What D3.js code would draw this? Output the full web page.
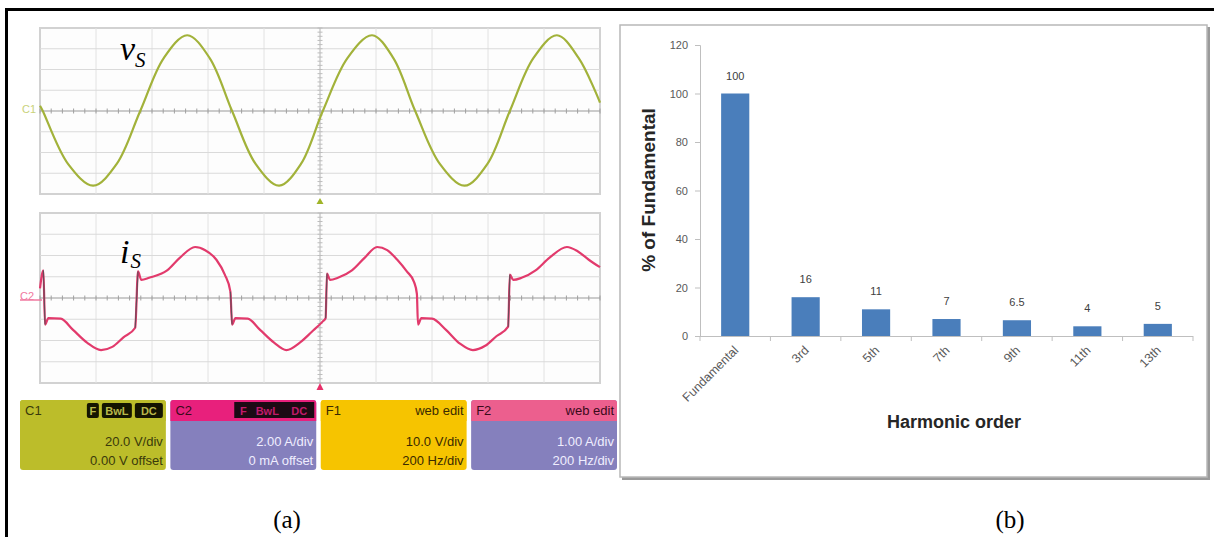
<!DOCTYPE html>
<html><head><meta charset="utf-8">
<script src="https://cdn.jsdelivr.net/npm/d3@7"></script>
<style>body{margin:0;background:#fff;overflow:hidden}</style>
</head><body>
<svg id="c" width="1214" height="537"></svg>
<script>
// ---------- DATA ----------
// (a) oscilloscope traces, time in screen divisions (0..10)
const vsTime = [0.00,0.05,0.50,0.95,1.37,1.79,2.21,2.63,3.03,3.43,3.85,4.27,4.66,5.05,5.49,5.93,6.31,6.70,7.14,7.58,7.99,8.39,8.81,9.23,9.62,10.0];
const vsVolt = [5,0,-51,-72,-51,0,51,73,51,0,-51,-72,-51,0,51,73,51,0,-51,-72,-51,0,51,73,51,8];
const isTime = [0.00,0.06,0.09,0.15,0.37,0.59,0.84,1.09,1.29,1.49,1.70,1.75,1.81,1.95,2.27,2.50,2.77,2.95,3.15,3.30,3.40,3.43,3.49,3.71,3.93,4.18,4.40,4.64,4.85,5.05,5.10,5.125,5.18,5.32,5.57,5.80,6.02,6.20,6.38,6.55,6.68,6.73,6.75,6.81,7.00,7.25,7.50,7.73,7.95,8.15,8.36,8.39,8.45,8.60,8.85,9.10,9.41,9.60,9.80,10.0];
const isAmp  = [0.9,2.6,-2.5,-1.9,-1.95,-3.0,-4.2,-4.9,-4.6,-3.7,-2.8,2.5,1.7,1.9,2.6,3.8,4.8,4.5,3.6,2.2,0.6,-2.5,-1.9,-1.95,-3.0,-4.2,-4.9,-4.2,-3.2,-2.2,-1.9,2.3,1.7,1.9,2.6,3.8,4.8,4.5,3.6,2.5,1.5,0.4,-2.5,-1.9,-1.95,-3.0,-4.3,-4.9,-4.5,-3.6,-2.7,2.2,1.7,1.9,2.6,3.8,4.8,4.4,3.6,2.9];
const scopeChannels = ["C1","C2","F1","F2"];
const scopeTopRight = [["F","BwL","DC"],["F","BwL","DC"],["web edit"],["web edit"]];
const scopeLine1 = ["20.0 V/div","2.00 A/div","10.0 V/div","1.00 A/div"];
const scopeLine2 = ["0.00 V offset","0 mA offset","200 Hz/div","200 Hz/div"];
// (b) harmonic spectrum
const harmonicOrders = ["Fundamental","3rd","5th","7th","9th","11th","13th"];
const harmonicPercent = [100,16,11,7,6.5,4,5];
const harmonicLabels = ["100","16","11","7","6.5","4","5"];
const yTicks = [0,20,40,60,80,100,120];

// ---------- DRAW ----------
const svg = d3.select("#c");
svg.append("rect").attr("width",1214).attr("height",537).attr("fill","#fff");

// outer frame
svg.append("line").attr("x1",5).attr("x2",1214).attr("y1",9.5).attr("y2",9.5).attr("stroke","#000").attr("stroke-width",3);
svg.append("line").attr("x1",6.5).attr("x2",6.5).attr("y1",8).attr("y2",537).attr("stroke","#000").attr("stroke-width",3);

// ---- (a) scope ----
const xs = d3.scaleLinear().domain([0,10]).range([40,600]);
const yV = d3.scaleLinear().domain([-80,80]).range([194,28]);
const yI = d3.scaleLinear().domain([-8,8]).range([383,213]);

function grid(yScale, step) {
  const g = svg.append("g");
  const [d0,d1] = yScale.domain();
  g.append("rect").attr("x",xs(0)).attr("y",yScale(d1)).attr("width",xs(10)-xs(0)).attr("height",yScale(d0)-yScale(d1))
    .attr("fill","#fdfdfd").attr("stroke","#d2d2d2").attr("stroke-width",2);
  d3.range(1,10).forEach(i=>{
    g.append("line").attr("x1",xs(i)).attr("x2",xs(i)).attr("y1",yScale(d1)).attr("y2",yScale(d0))
      .attr("stroke", i===5 ? "#b4b4b4" : "#e2e2e2").attr("stroke-width",1);
  });
  d3.range(d0+step,d1,step).forEach(v=>{
    g.append("line").attr("x1",xs(0)).attr("x2",xs(10)).attr("y1",yScale(v)).attr("y2",yScale(v))
      .attr("stroke", v===0 ? "#9a9a9a" : "#dadada").attr("stroke-width", v===0?1.2:1);
  });
  d3.range(0,10.01,0.2).forEach(t=>{
    g.append("line").attr("x1",xs(t)).attr("x2",xs(t)).attr("y1",yScale(0)-2.5).attr("y2",yScale(0)+2.5)
      .attr("stroke","#a0a0a0").attr("stroke-width",1);
  });
  d3.range(d0,d1+0.001,step/5).forEach(v=>{
    g.append("line").attr("x1",xs(5)-2.5).attr("x2",xs(5)+2.5).attr("y1",yScale(v)).attr("y2",yScale(v))
      .attr("stroke","#bdbdbd").attr("stroke-width",1);
  });
}
grid(yV,20);
grid(yI,2);

// traces
const vsData = vsTime.map((t,i)=>[t,vsVolt[i]]);
const isData = isTime.map((t,i)=>[t,isAmp[i]]);
svg.append("path").datum(vsData)
  .attr("d", d3.line().x(d=>xs(d[0])).y(d=>yV(d[1])).curve(d3.curveCatmullRom.alpha(0.5)))
  .attr("fill","none").attr("stroke","#a2b23a").attr("stroke-width",2.2);
svg.append("path").datum(isData)
  .attr("d", d3.line().x(d=>xs(d[0])).y(d=>yI(d[1])).curve(d3.curveMonotoneX))
  .attr("fill","none").attr("stroke","#e23a6c").attr("stroke-width",2.2);
isData.forEach((d,i)=>{
  if(i>0 && Math.abs(d[1]-isData[i-1][1])>3){
    svg.append("line").attr("x1",xs(isData[i-1][0])).attr("x2",xs(d[0])).attr("y1",yI(isData[i-1][1])).attr("y2",yI(d[1]))
      .attr("stroke","#6a4a58").attr("stroke-width",1.2);
  }
});

// channel markers
svg.append("text").attr("x",22).attr("y",yV(0)+2).attr("font-family","Liberation Sans").attr("font-size",11)
  .attr("fill","#c9d27a").text("C1");
svg.append("text").attr("x",20).attr("y",yI(0)+2).attr("font-family","Liberation Sans").attr("font-size",11)
  .attr("fill","#f07aa0").text("C2");
svg.append("line").attr("x1",20).attr("x2",42).attr("y1",yI(0)+2).attr("y2",yI(0)+2).attr("stroke","#f07aa0").attr("stroke-width",1.5);

// trigger markers
svg.append("path").attr("d",`M${xs(5)-3.5},204 L${xs(5)+3.5},204 L${xs(5)},198 Z`).attr("fill","#a0b428");
svg.append("path").attr("d",`M${xs(5)-3.5},390 L${xs(5)+3.5},390 L${xs(5)},383 Z`).attr("fill","#e8306a");

// trace labels
const lab1 = svg.append("text").attr("x",120).attr("y",60).attr("font-family","Liberation Serif").attr("font-style","italic").attr("font-size",34).attr("fill","#000");
lab1.append("tspan").text("v");
lab1.append("tspan").attr("font-size",21).attr("dy",7).text("S");
const lab2 = svg.append("text").attr("x",120).attr("y",263).attr("font-family","Liberation Serif").attr("font-style","italic").attr("font-size",34).attr("fill","#000");
lab2.append("tspan").text("i");
lab2.append("tspan").attr("font-size",21).attr("dy",5).attr("dx",1).text("S");

// info boxes
const bx = d3.scaleBand().domain(scopeChannels).range([20,617]).paddingInner(0.03);
const boxTop = ["#bcbd2a","#e8207c","#f6c400","#ec5f8e"];
const boxBody = ["#bcbd2a","#8580bd","#f6c400","#8580bd"];
const boxText = ["#3a3a0a","#f0eeff","#3a2a00","#f0eeff"];
const boxHeadText = ["#3a3a0a","#3a0a1a","#3a2a00","#3a0a1a"];
scopeChannels.forEach((ch,i)=>{
  const x0 = bx(ch), w = bx.bandwidth();
  const g = svg.append("g");
  g.append("rect").attr("x",x0).attr("y",400).attr("width",w).attr("height",70).attr("rx",3).attr("fill",boxBody[i]);
  g.append("path").attr("d",`M${x0},421 V403 Q${x0},400 ${x0+3},400 H${x0+w-3} Q${x0+w},400 ${x0+w},403 V421 Z`).attr("fill",boxTop[i]);
  g.append("text").attr("x",x0+5).attr("y",415).attr("font-family","Liberation Sans").attr("font-size",13).attr("fill",boxHeadText[i]).text(ch);
  const badges = scopeTopRight[i];
  if(badges.length>1){
    let xr = x0+w-3;
    const widths=[28,30,12];
    const bg = g.append("g");
    if(i===1){
      bg.append("rect").attr("x",x0+w-82).attr("y",402).attr("width",80).attr("height",16).attr("fill","#1c0a14");
    }
    badges.slice().reverse().forEach((b,k)=>{
      const bw = widths[k];
      if(i===0) bg.append("rect").attr("x",xr-bw).attr("y",403).attr("width",bw).attr("height",15).attr("rx",2).attr("fill","#141400");
      bg.append("text").attr("x",xr-bw/2).attr("y",415).attr("text-anchor","middle").attr("font-family","Liberation Sans")
        .attr("font-size",11).attr("font-weight","bold").attr("fill", i===0?"#b8b84a":"#c01a6a").text(b);
      xr -= bw+3;
    });
  } else {
    g.append("text").attr("x",x0+w-3).attr("y",415).attr("text-anchor","end").attr("font-family","Liberation Sans")
      .attr("font-size",13).attr("fill",boxHeadText[i]).text(badges[0]);
  }
  g.append("text").attr("x",x0+w-3).attr("y",446).attr("text-anchor","end").attr("font-family","Liberation Sans")
    .attr("font-size",13).attr("fill",boxText[i]).text(scopeLine1[i]);
  g.append("text").attr("x",x0+w-3).attr("y",465).attr("text-anchor","end").attr("font-family","Liberation Sans")
    .attr("font-size",13).attr("fill",boxText[i]).text(scopeLine2[i]);
});

// ---- (b) bar chart ----
svg.append("rect").attr("x",622).attr("y",27).attr("width",588).attr("height",453).attr("fill","#9a9a9a");
svg.append("rect").attr("x",620).attr("y",25).attr("width",587).attr("height",452).attr("fill","#fff").attr("stroke","#b8b8b8").attr("stroke-width",1.5);

const xb = d3.scaleBand().domain(harmonicOrders).range([700,1193]).paddingInner(0.6).paddingOuter(0.3);
const yb = d3.scaleLinear().domain([0,120]).range([336,45]);

const yAxis = svg.append("g").attr("transform","translate(700,0)")
  .call(d3.axisLeft(yb).tickValues(yTicks).tickSize(5).tickPadding(7));
yAxis.select(".domain").attr("stroke","#bfbfbf");
yAxis.selectAll(".tick line").attr("stroke","#bfbfbf");
yAxis.selectAll(".tick text").attr("font-family","Liberation Sans").attr("font-size",11).attr("fill","#595959");

svg.append("line").attr("x1",700).attr("x2",1193).attr("y1",yb(0)+0.5).attr("y2",yb(0)+0.5).attr("stroke","#bfbfbf");
const bounds = harmonicOrders.map(h=>xb(h)-xb.step()*xb.paddingInner()/2).concat([1193]);
bounds.forEach(b=>{
  svg.append("line").attr("x1",b).attr("x2",b).attr("y1",yb(0)).attr("y2",yb(0)+5).attr("stroke","#bfbfbf");
});

svg.selectAll("rect.bar").data(harmonicPercent).join("rect").attr("class","bar")
  .attr("x",(d,i)=>xb(harmonicOrders[i])).attr("width",xb.bandwidth())
  .attr("y",d=>yb(d)).attr("height",d=>yb(0)-yb(d)).attr("fill","#4a7ebb");

svg.selectAll("text.vl").data(harmonicPercent).join("text").attr("class","vl")
  .attr("x",(d,i)=>xb(harmonicOrders[i])+xb.bandwidth()/2).attr("y",d=>yb(d)-14)
  .attr("text-anchor","middle").attr("font-family","Liberation Sans").attr("font-size",11).attr("fill","#404040")
  .text((d,i)=>harmonicLabels[i]);

svg.selectAll("text.cat").data(harmonicOrders).join("text").attr("class","cat")
  .attr("transform",d=>`translate(${xb(d)+xb.bandwidth()/2+4},${yb(0)+15}) rotate(-45)`)
  .attr("text-anchor","end").attr("font-family","Liberation Sans").attr("font-size",12.5).attr("fill","#595959")
  .text(d=>d);

svg.append("text").attr("x",954).attr("y",428).attr("text-anchor","middle").attr("font-family","Liberation Sans")
  .attr("font-weight","bold").attr("font-size",18).attr("fill","#262626").text("Harmonic order");
svg.append("text").attr("transform","translate(655,190) rotate(-90)").attr("text-anchor","middle").attr("font-family","Liberation Sans")
  .attr("font-weight","bold").attr("font-size",19).attr("fill","#262626").text("% of Fundamental");

// panel captions
svg.append("text").attr("x",287).attr("y",528).attr("text-anchor","middle").attr("font-family","Liberation Serif").attr("font-size",25).text("(a)");
svg.append("text").attr("x",1010).attr("y",528).attr("text-anchor","middle").attr("font-family","Liberation Serif").attr("font-size",25).text("(b)");
</script>
</body></html>
